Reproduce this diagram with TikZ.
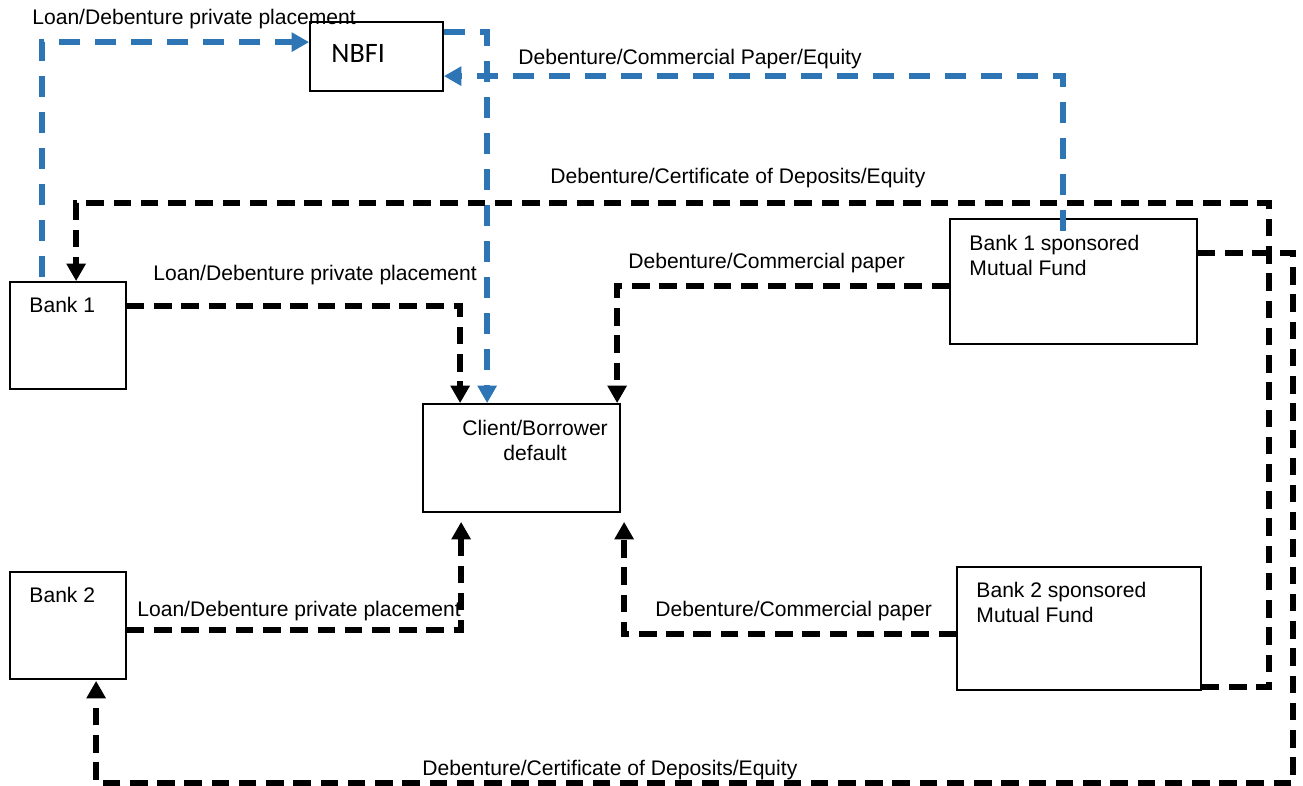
\documentclass[tikz,border=0pt]{standalone}
\usepackage{fontspec}
\setmainfont{Liberation Sans}
\newfontfamily\nbfifont{Carlito}
\usetikzlibrary{calc}
\usetikzlibrary{arrows.meta}
\definecolor{flowblue}{RGB}{46,117,182}
\tikzstyle{box}=[rectangle,draw=black,fill=white,line width=1pt,inner sep=0pt]
\tikzstyle{txt}=[inner sep=0pt,font=\fontsize{12}{14.2}\selectfont]
\tikzstyle{kflow}=[color=black,line width=3.1pt,dash pattern=on 10pt off 5.5pt,-{Triangle[length=0.35cm,width=0.37cm]}]
\tikzstyle{bflow}=[color=flowblue,line width=3.1pt,dash pattern=on 12pt off 8.5pt,-{Triangle[length=0.35cm,width=0.37cm]}]

\begin{document}
\begin{tikzpicture}[x=0.02cm,y=-0.02cm]

  \def\px{0.02cm}
  \useasboundingbox (0,0) rectangle (1303,786);

  % boxes
  \foreach \x/\y/\w/\h/\name in {310/22/133/69/nbfi, 10/282/116/107/bankA, 423/404/197/108/client,
                                  950/219/247/125/mfA, 10/572/116/107/bankB, 957/567/244/123/mfB}
    \node[box, minimum width=\w*\px, minimum height=\h*\px] (\name) at (\x+\w/2, \y+\h/2) {};

  \node[txt, anchor=base west, font=\nbfifont\fontsize{16}{19}\selectfont] (nbfiTxt) at ($(nbfi.north west)+(22,41)$) {NBFI};
  \node[txt, anchor=base west] (bankAtxt) at ($(bankA.north west)+(20,31)$) {Bank 1};
  \node[txt, anchor=base west] (bankBtxt) at ($(bankB.north west)+(20,31)$) {Bank 2};
  \node[txt, align=center, anchor=north] (clientTxt) at ($(client.north west)+(113,17)$) {Client/Borrower\\default};
  \node[txt, align=left, anchor=north west] (mfAtxt) at ($(mfA.north west)+(20,16.5)$) {Bank 1 sponsored\\Mutual Fund};
  \node[txt, align=left, anchor=north west] (mfBtxt) at ($(mfB.north west)+(20,15.5)$) {Bank 2 sponsored\\Mutual Fund};

  % blue flows (NBFI)
  \draw[bflow] ($(bankA.north west)+(33,-4)$) |- ($(nbfi.north west)+(0,21)$);
  \draw[bflow] ($(nbfi.north east)+(0,11)$) -| ($(client.north west)+(65,0)$);
  \draw[bflow] ($(mfA.north west)+(114,13)$) |- ($(nbfi.north east)+(0,55)$);

  % black flows
  \draw[kflow] ($(bankA.north east)+(0,25)$) -| ($(client.north west)+(38,0)$);
  \draw[kflow] ($(mfA.north west)+(0,68)$) -| ($(client.north west)+(195,0)$);
  \draw[kflow] ($(bankB.north east)+(0,59)$) -| ($(client.south west)+(39,9)$);
  \draw[kflow] ($(mfB.north west)+(0,68)$) -| ($(client.south west)+(202,9)$);
  \draw[kflow] ($(mfB.south east)+(0,-4)$) -- ++(67,0) |- ($(bankA.north west)+(67,-78)$) -- ($(bankA.north west)+(67,0)$);
  \draw[kflow] ($(mfA.north east)+(0,35)$) -- ++(95,0) |- ($(bankB.south west)+(87,103)$) -- ($(bankB.south west)+(87,1)$);

  % labels
  \node[txt, anchor=base west] (lblLoanN) at (32,25) {Loan/Debenture private placement};
  \node[txt, anchor=base west] (lblCpEq) at (518,65) {Debenture/Commercial Paper/Equity};
  \node[txt, anchor=base west] (lblCdTop) at (550,184) {Debenture/Certificate of Deposits/Equity};
  \node[txt, anchor=base west] (lblLoanA) at (153,281) {Loan/Debenture private placement};
  \node[txt, anchor=base west] (lblCpA) at (628,269) {Debenture/Commercial paper};
  \node[txt, anchor=base west] (lblLoanB) at (137,617) {Loan/Debenture private placement};
  \node[txt, anchor=base west] (lblCpB) at (655,617) {Debenture/Commercial paper};
  \node[txt, anchor=base west] (lblCdBot) at (422,776) {Debenture/Certificate of Deposits/Equity};

\end{tikzpicture}
\end{document}
